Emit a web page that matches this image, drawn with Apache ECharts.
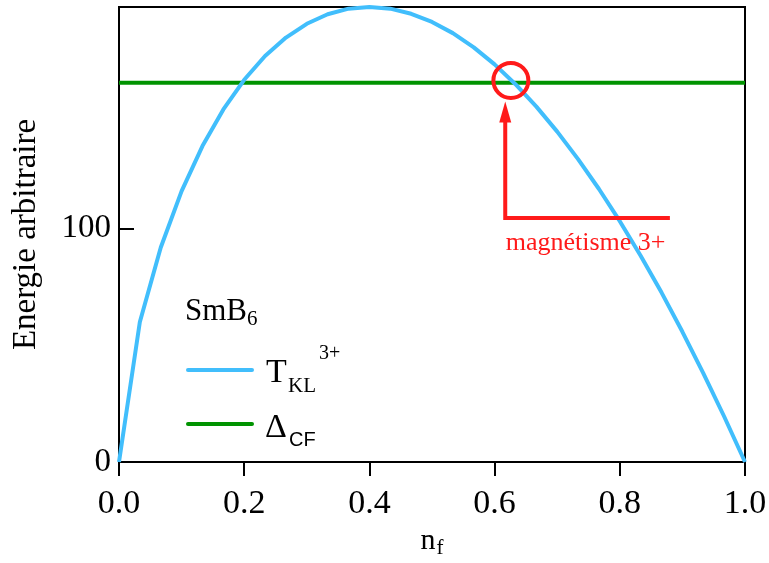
<!DOCTYPE html>
<html><head><meta charset="utf-8">
<script src="https://cdn.jsdelivr.net/npm/echarts@6/dist/echarts.min.js"></script>
<style>html,body{margin:0;padding:0;background:#fff}#c{width:769px;height:563px}</style>
</head><body><div id="c"></div>
<script>
// ---- data ----
const nf = [0, 0.0333, 0.0667, 0.1, 0.1333, 0.1667, 0.2, 0.2333, 0.2667, 0.3, 0.3333,
  0.3667, 0.4, 0.4333, 0.4667, 0.5, 0.5333, 0.5667, 0.6, 0.6333, 0.6667,
  0.7, 0.7333, 0.7667, 0.8, 0.8333, 0.8667, 0.9, 0.9333, 0.9667, 1.0];
const tkl = [0, 60.0, 91.9, 116.1, 135.4, 151.1, 163.8, 174.0, 181.9, 187.8, 191.9,
  194.3, 195.0, 194.3, 192.1, 188.6, 183.8, 177.7, 170.4, 161.9, 152.3,
  141.6, 129.8, 117.0, 103.2, 88.4, 72.6, 55.8, 38.1, 19.5, 0];
const deltaCFx = [0, 1];
const deltaCF = [162.5, 162.5];
const xTickLabels = ['0.0', '0.2', '0.4', '0.6', '0.8', '1.0'];
const yTickLabels = ['0', '100'];
// annotation anchors (data units)
const circleAt = [0.626, 163.5];
const arrowX = 0.617;
const arrowTipY = 154.5;
const arrowBaseY = 104.6;
const arrowEndX = 0.88;
const annotText = 'magnétisme 3+';

const SERIF = 'Liberation Serif';
const SANS = 'Liberation Sans';
const BLUE = '#41BEFC', GREEN = '#009300', RED = '#FF1A1A';

const chart = echarts.init(document.getElementById('c'), null, {renderer: 'canvas'});
chart.setOption({
  animation: false,
  backgroundColor: '#fff',
  grid: {left: 119, right: 24, top: 7, bottom: 101, containLabel: false, outerBoundsMode: 'none',
    show: true, borderColor: '#000', borderWidth: 2, backgroundColor: 'transparent'},
  xAxis: {
    type: 'value', min: 0, max: 1, interval: 0.2,
    name: '{n|n}{f|f}', nameLocation: 'middle', nameGap: 62,
    nameTextStyle: {rich: {
      n: {fontFamily: SERIF, fontSize: 30, color: '#000'},
      f: {fontFamily: SERIF, fontSize: 21, color: '#000', verticalAlign: 'bottom', padding: [14, 0, 0, 1]}
    }},
    axisLine: {lineStyle: {color: '#000', width: 2}},
    axisTick: {inside: false, length: 14, lineStyle: {color: '#000', width: 2}},
    axisLabel: {fontFamily: SERIF, fontSize: 34, color: '#000', margin: 25,
      formatter: v => xTickLabels[Math.round(v / 0.2)]},
    splitLine: {show: false}
  },
  yAxis: {
    type: 'value', min: 0, max: 195, interval: 100,
    name: 'Energie arbitraire', nameLocation: 'middle', nameGap: 76,
    nameTextStyle: {fontFamily: SERIF, fontSize: 33, color: '#000'},
    axisLine: {lineStyle: {color: '#000', width: 2}},
    axisTick: {inside: true, length: 15, lineStyle: {color: '#000', width: 2}},
    axisLabel: {fontFamily: SERIF, fontSize: 33, color: '#000', margin: 8,
      formatter: v => yTickLabels[Math.round(v / 100)] || ''},
    splitLine: {show: false}
  },
  series: [
    {name: 'TKL', type: 'line', showSymbol: false, clip: true,
     data: nf.map((x, i) => [x, tkl[i]]),
     lineStyle: {color: BLUE, width: 4}, z: 3},
    {name: 'DeltaCF', type: 'line', showSymbol: false,
     data: deltaCFx.map((x, i) => [x, deltaCF[i]]),
     lineStyle: {color: GREEN, width: 4}, z: 2}
  ]
});

const P = (x, y) => chart.convertToPixel({gridIndex: 0}, [x, y]);
const c = P(circleAt[0], circleAt[1]);
const tip = P(arrowX, arrowTipY);
const base = P(arrowX, arrowBaseY);
const end = P(arrowEndX, arrowBaseY);
const headLen = 21, headW = 6;
const T = (x, y, text, size, family, fill, align, valign) => ({type: 'text', x, y, z: 10,
  style: {text: '{a|' + text + '}', align: align || 'left', verticalAlign: valign || 'top',
    rich: {a: {fontSize: size, fontFamily: family, fill: fill || '#000', color: fill || '#000'}}}});

chart.setOption({
  graphic: [
    {type: 'circle', shape: {cx: c[0], cy: c[1], r: 17.5}, style: {fill: 'none', stroke: RED, lineWidth: 4}, z: 10},
    {type: 'polyline', shape: {points: [[end[0], end[1]], [base[0], base[1]], [tip[0], tip[1] + headLen - 2]]},
     style: {stroke: RED, lineWidth: 4, fill: 'none'}, z: 10},
    {type: 'polygon', shape: {points: [[tip[0], tip[1]], [tip[0] - headW, tip[1] + headLen], [tip[0] + headW, tip[1] + headLen]]},
     style: {fill: RED}, z: 10},
    T((base[0] + end[0]) / 2 - 2, base[1] + 25, annotText, 26, SERIF, RED, 'center', 'middle'),
    // legend block
    {type: 'text', x: 185, y: 312,
     style: {text: '{a|SmB}{b|6}', verticalAlign: 'middle', rich: {
       a: {fontFamily: SERIF, fontSize: 31, fill: '#000'},
       b: {fontFamily: SERIF, fontSize: 21, fill: '#000', verticalAlign: 'bottom', padding: [15, 0, 0, 0]}
     }}, z: 10},
    {type: 'line', shape: {x1: 188, y1: 370, x2: 252, y2: 370}, style: {stroke: BLUE, lineWidth: 4, lineCap: 'round'}, z: 10},
    T(266, 356, 'T', 34, SERIF),
    T(288, 376, 'KL', 21, SERIF),
    T(319, 344, '3+', 20, SERIF),
    {type: 'line', shape: {x1: 188, y1: 424, x2: 252, y2: 424}, style: {stroke: GREEN, lineWidth: 4, lineCap: 'round'}, z: 10},
    T(265, 411, 'Δ', 34, SERIF),
    T(289, 430, 'CF', 20, SANS)
  ]
});
</script></body></html>
